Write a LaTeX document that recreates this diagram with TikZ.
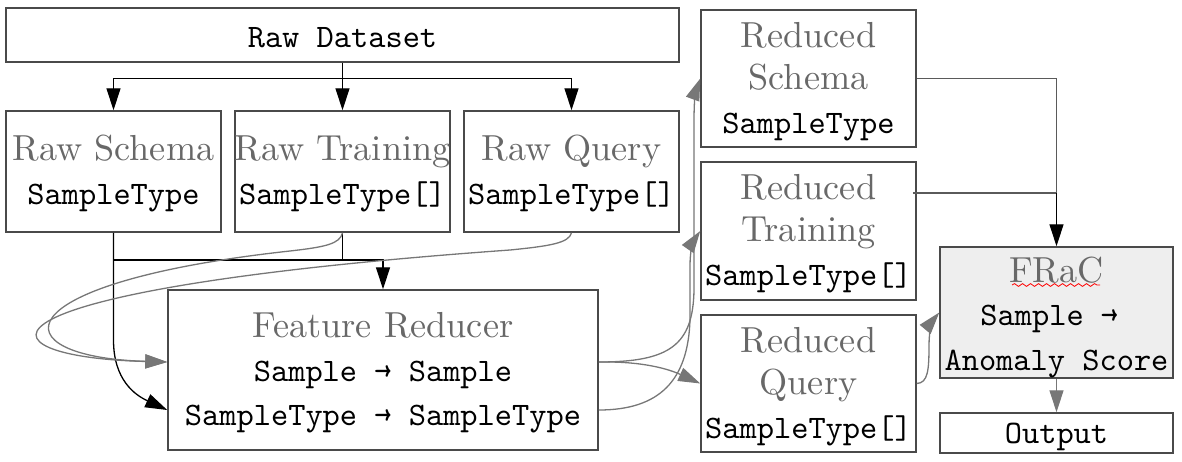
\documentclass[tikz,border=0pt]{standalone}
\usepackage{fontspec}
\newfontfamily\ttlfont{lmroman10-regular.otf}
\newfontfamily\monofont{lmmono10-regular.otf}
\usetikzlibrary{arrows.meta,fit,calc,decorations.pathmorphing}
\definecolor{ttlc}{HTML}{686868}
\definecolor{lnc}{HTML}{777777}
\definecolor{dlnc}{HTML}{5A5A5A}
\definecolor{bdc}{HTML}{4A4A4A}
\definecolor{fracbg}{HTML}{EEEEEE}
\begin{document}
\begin{tikzpicture}[x=0.5pt,y=-0.5pt,
  box/.style={draw=bdc,line width=0.75pt,inner sep=0pt,rectangle},
  ttl/.style={text=ttlc,font=\ttlfont\fontsize{18.1}{21}\selectfont,inner sep=0pt,anchor=base},
  tt/.style={font=\monofont\fontsize{16.4}{19}\selectfont,inner sep=0pt,anchor=base},
  blk/.style={draw=black,line width=0.65pt},
  gry/.style={draw=lnc,line width=0.65pt},
  dgry/.style={draw=dlnc,line width=0.65pt},
  tip/.style={-{Triangle[length=11pt,width=7pt]}},
]
\useasboundingbox (0,0) rectangle (1182,461);
% boxes
\node[box,fit={(6,8)(679,62)}] (rd) {};
\node[box,fit={(6,111)(221,232)}] (rsch) {};
\node[box,fit={(235,111)(450,232)}] (rtrn) {};
\node[box,fit={(464,111)(679,232)}] (rqry) {};
\node[box,fit={(168,290)(598,450)}] (fr) {};
\node[box,fit={(701,10)(916,147)}] (dsch) {};
\node[box,fit={(701,162)(916,300)}] (dtrn) {};
\node[box,fit={(701,315)(916,452)}] (dqry) {};
\node[box,fill=fracbg,fit={(940,247)(1173,378)}] (frac) {};
\node[box,fit={(940,413)(1173,453)}] (out) {};
% texts
\node[tt] (rdt) at (342.5,47) {Raw Dataset};
\node[ttl] (rscht) at (113.5,160) {Raw Schema};
\node[tt] (rschs) at (113.5,204) {SampleType};
\node[ttl] (rtrnt) at (342.5,160) {Raw Training};
\node[tt] (rtrns) at (342.5,204) {SampleType[]};
\node[ttl] (rqryt) at (571.5,160) {Raw Query};
\node[tt] (rqrys) at (571.5,204) {SampleType[]};
\node[ttl] (frt) at (383,337) {Feature Reducer};
\node[tt] (frs1) at (383,381) {Sample → Sample};
\node[tt] (frs2) at (383,425) {SampleType → SampleType};
\node[ttl] (dscht1) at (808.5,47) {Reduced};
\node[ttl] (dscht2) at (808.5,89) {Schema};
\node[tt] (dschs) at (808.5,133) {SampleType};
\node[ttl] (dtrnt1) at (808.5,199) {Reduced};
\node[ttl] (dtrnt2) at (808.5,241) {Training};
\node[tt] (dtrns) at (808.5,285) {SampleType[]};
\node[ttl] (dqryt1) at (808.5,352) {Reduced};
\node[ttl] (dqryt2) at (808.5,394) {Query};
\node[tt] (dqrys) at (808.5,438) {SampleType[]};
\node[ttl] (fract) at (1056.5,282) {FRaC};
\node[tt,anchor=base west] (fracs1) at (980,325) {Sample →};
\node[tt] (fracs2) at (1056.5,370) {Anomaly Score};
\node[tt] (outt) at (1056.5,443) {Output};
\draw[red,line width=0.4pt,decorate,decoration={snake,amplitude=0.7pt,segment length=4pt}] (1012,285) -- (1100,285);
% top arrows
\draw[blk,tip] (rd.south) -- (rtrn.north);
\draw[blk,tip] (rd.south) -- ++(0,16) -| (rsch.north);
\draw[blk,tip] (rd.south) -- ++(0,16) -| (rqry.north);
% into feature reducer
\draw[blk,tip] (rsch.south) -- (113.5,260) -| (fr.north);
\draw[blk] (rtrn.south) -- (342.5,260);
\draw[blk,tip] (rsch.south) -- (113.5,340) .. controls (113.5,380) and (135,395) .. ($(fr.west)+(0,40)$);
\draw[gry,tip] (rtrn.south) .. controls (340,244) and (325,247) .. (290,251) .. controls (-2,283) and (-2,357) .. ($(fr.west)+(0,-8)$);
\draw[gry,tip] (rqry.south) .. controls (569,243) and (550,246) .. (510,250) .. controls (-50,290) and (-30,357) .. ($(fr.west)+(0,-8)$);
% out of feature reducer
\draw[gry,tip] ($(fr.east)+(0,-8)$) .. controls (670,362) and (693,345) .. (694,290) -- (694,120) .. controls (694,100) and (696,90) .. (dsch.west);
\draw[gry,tip] ($(fr.east)+(0,-8)$) .. controls (650,361) and (675,372) .. (dqry.west);
\draw[gry,tip] ($(fr.east)+(0,40)$) .. controls (660,410) and (688,380) .. (690,320) -- (690,265) .. controls (690,250) and (694,240) .. (dtrn.west);
% into FRaC
\draw[gry,tip] (dqry.east) .. controls (928,383) and (929,370) .. (929,345) .. controls (929,330) and (933,320) .. (frac.west);
\coordinate (jn) at (frac.north |- 0,193);
\draw[dgry] (dsch.east) -| (jn);
\draw[dgry] ($(dtrn.east |- jn)+(-4,0)$) -- (jn);
\draw[blk,tip] (jn) -- (frac.north);
\draw[gry,tip] (frac.south) -- (out.north);
\end{tikzpicture}
\end{document}
